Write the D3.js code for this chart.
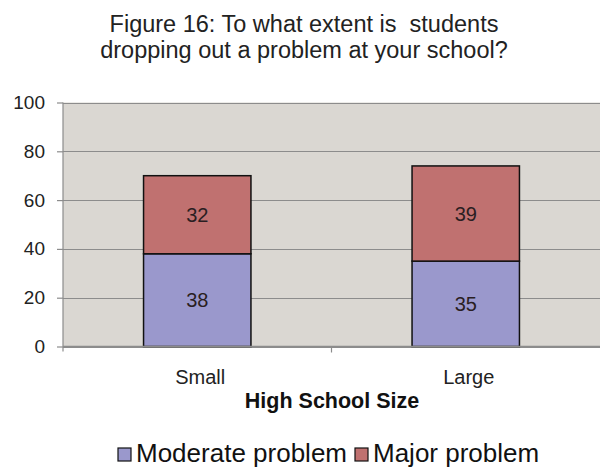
<!DOCTYPE html>
<html>
<head>
<meta charset="utf-8">
<script src="https://cdn.jsdelivr.net/npm/d3@7"></script>
<style>
  html, body { margin: 0; padding: 0; background: #ffffff; }
  svg { display: block; font-family: "Liberation Sans", Arial, sans-serif; }
</style>
</head>
<body>
<svg id="chart" width="600" height="472"></svg>
<script>
const titleLines = ["Figure 16: To what extent is  students", "dropping out a problem at your school?"];
const categories = ["Small", "Large"];
const seriesNames = ["Moderate problem", "Major problem"];
const moderate = [38, 35];
const major = [32, 39];
const yTicks = [0, 20, 40, 60, 80, 100];
const xAxisTitle = "High School Size";
const colors = ["#9a98cc", "#c07170"];

const svg = d3.select("#chart");
const plot = { left: 63, right: 600, top: 102.5, bottom: 346.5 };

const x = d3.scaleBand().domain(categories).range([plot.left, plot.right]).padding(0);
const y = d3.scaleLinear().domain([0, 100]).range([plot.bottom, plot.top]);
const barW = x.bandwidth() * 0.4;

// title
svg.selectAll("text.title").data(titleLines).join("text")
  .attr("class", "title")
  .attr("x", 304).attr("y", (d, i) => 32 + i * 26)
  .attr("text-anchor", "middle")
  .attr("font-size", 23.5).attr("fill", "#222")
  .style("white-space", "pre")
  .text(d => d);

// plot background
svg.append("rect")
  .attr("x", plot.left).attr("y", plot.top)
  .attr("width", plot.right - plot.left).attr("height", plot.bottom - plot.top)
  .attr("fill", "#dad7d2");

// gridlines
svg.append("g").selectAll("line").data(yTicks).join("line")
  .attr("x1", plot.left).attr("x2", plot.right)
  .attr("y1", d => Math.round(y(d)) + 0.5).attr("y2", d => Math.round(y(d)) + 0.5)
  .attr("stroke", "#8c8c8c").attr("stroke-width", 1.2);

// y axis
const yAxis = d3.axisLeft(y).tickValues(yTicks).tickSize(6).tickPadding(12);
const gy = svg.append("g").attr("transform", `translate(${plot.left},0)`).call(yAxis);
gy.select(".domain").attr("stroke", "#8c8c8c").attr("stroke-width", 1.2)
  .attr("d", `M0,${plot.top}V${plot.bottom + 5}`);
gy.selectAll(".tick line").attr("stroke", "#8c8c8c").attr("stroke-width", 1.2);
gy.selectAll(".tick text").attr("font-size", 19).attr("fill", "#222")
  .attr("font-family", "Liberation Sans, Arial, sans-serif");

// stacked bars
const stackData = categories.map((c, i) => ({ cat: c, Moderate: moderate[i], Major: major[i] }));
const stack = d3.stack().keys(["Moderate", "Major"])(stackData);
const gBars = svg.append("g");
stack.forEach((layer, li) => {
  gBars.append("g").selectAll("rect").data(layer).join("rect")
    .attr("x", d => x(d.data.cat) + (x.bandwidth() - barW) / 2)
    .attr("y", d => y(d[1]))
    .attr("width", barW)
    .attr("height", d => y(d[0]) - y(d[1]))
    .attr("fill", colors[li])
    .attr("stroke", "#111").attr("stroke-width", 1.5);
  gBars.append("g").selectAll("text").data(layer).join("text")
    .attr("x", d => x(d.data.cat) + x.bandwidth() / 2)
    .attr("y", d => (y(d[0]) + y(d[1])) / 2)
    .attr("dy", "0.36em")
    .attr("text-anchor", "middle")
    .attr("font-size", 20).attr("fill", "#2a1e22")
    .text(d => d[1] - d[0]);
});

// x axis baseline
svg.append("line")
  .attr("x1", plot.left).attr("x2", plot.right)
  .attr("y1", plot.bottom).attr("y2", plot.bottom)
  .attr("stroke", "#8c8c8c").attr("stroke-width", 1.5);

// x tick marks at category boundaries
const boundaries = categories.slice(1).map(c => x(c));
svg.append("g").selectAll("line").data(boundaries).join("line")
  .attr("x1", d => d).attr("x2", d => d)
  .attr("y1", plot.bottom).attr("y2", plot.bottom + 6)
  .attr("stroke", "#8c8c8c").attr("stroke-width", 1.2);

// category labels
svg.append("g").selectAll("text").data(categories).join("text")
  .attr("x", d => x(d) + x.bandwidth() / 2 + 3)
  .attr("y", 384)
  .attr("text-anchor", "middle")
  .attr("font-size", 20).attr("fill", "#222")
  .text(d => d);

// axis title
svg.append("text")
  .attr("x", 332).attr("y", 408)
  .attr("text-anchor", "middle")
  .attr("font-size", 21.5).attr("font-weight", "bold").attr("fill", "#111")
  .text(xAxisTitle);

// legend
const legendX = [118, 355];
const lg = svg.append("g").selectAll("g").data(seriesNames).join("g")
  .attr("transform", (d, i) => `translate(${legendX[i]},448)`);
lg.append("rect").attr("width", 13).attr("height", 13)
  .attr("fill", (d, i) => colors[i]).attr("stroke", "#111").attr("stroke-width", 1.2);
lg.append("text").attr("x", 18).attr("y", 14)
  .attr("font-size", 26).attr("fill", "#111")
  .text(d => d);
</script>
</body>
</html>
